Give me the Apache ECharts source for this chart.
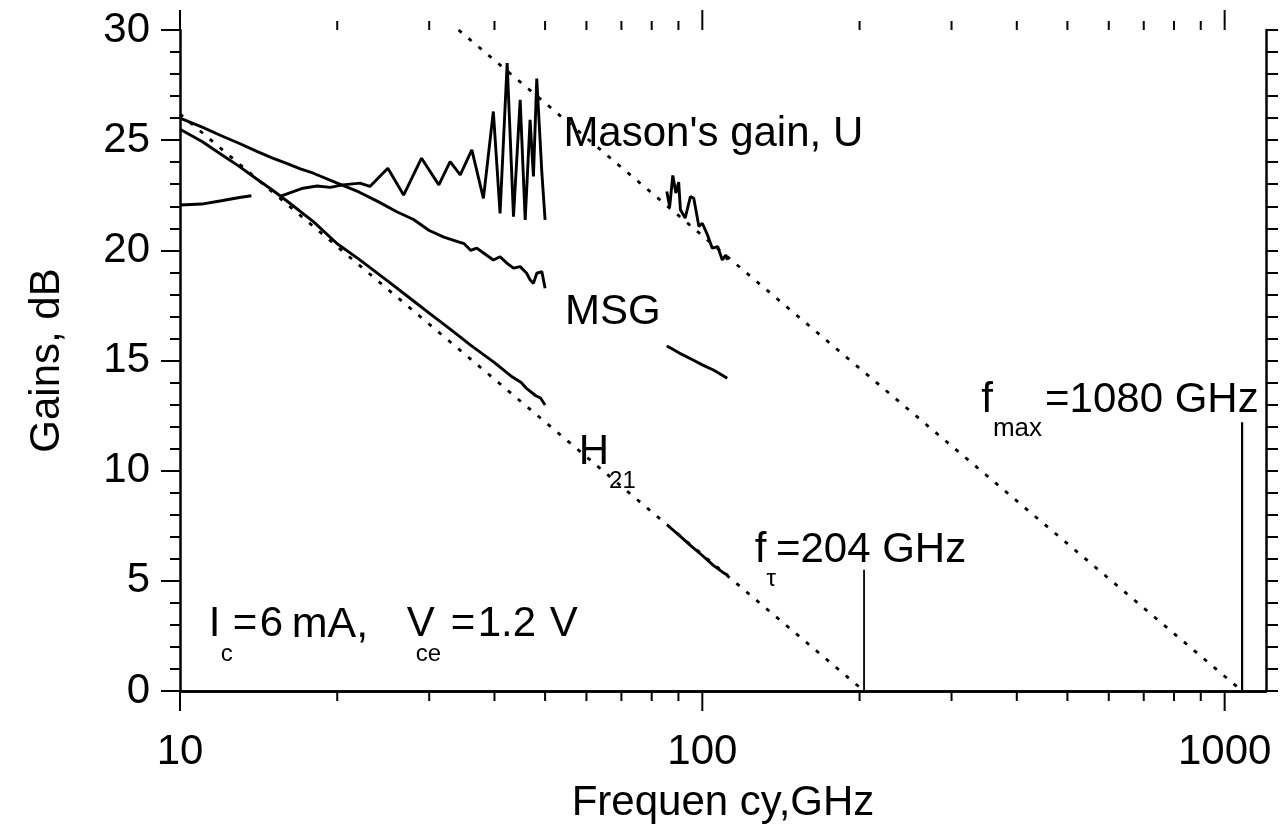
<!DOCTYPE html>
<html><head><meta charset="utf-8">
<script src="https://cdn.jsdelivr.net/npm/echarts@6/dist/echarts.min.js"></script>
<style>html,body{margin:0;padding:0;background:#fff}#c{width:1280px;height:825px}</style>
</head><body><div id="c"></div>
<script>
// ---------------- data (frequency in GHz, gain in dB) ----------------
const h21LowFreq  = [10, 11, 12, 13, 14, 15, 16, 18, 20, 22, 25, 28, 30, 33, 36, 40, 43, 45, 46, 48, 49, 50];
const h21LowGain  = [25.5, 24.95, 24.35, 23.8, 23.25, 22.75, 22.25, 21.3, 20.3, 19.6, 18.6, 17.7, 17.15, 16.4, 15.7, 14.9, 14.3, 14.0, 13.75, 13.4, 13.3, 12.98];
const h21HighFreq = [86, 90, 95, 100, 105, 110, 112];
const h21HighGain = [7.5, 7.1, 6.6, 6.15, 5.7, 5.35, 5.25];

const msgLowFreq  = [10, 11, 12, 13, 14, 15, 16, 17, 18, 20, 22, 24, 26, 28, 30, 32, 34, 35, 36, 37, 38, 39.8, 41, 42.3, 43.5, 44.8, 46.1, 46.8, 47.5, 48.2, 49.3, 50];
const msgLowGain  = [26.0, 25.6, 25.2, 24.85, 24.5, 24.2, 23.95, 23.7, 23.5, 23.05, 22.65, 22.2, 21.75, 21.4, 20.9, 20.6, 20.4, 20.3, 20.0, 20.1, 19.9, 19.56, 19.71, 19.41, 19.19, 19.26, 18.96, 18.66, 18.5, 18.96, 19.03, 18.28];
const msgHighFreq = [85.5, 88, 91, 96, 100, 105, 108, 111.6];
const msgHighGain = [15.66, 15.5, 15.3, 15.02, 14.8, 14.57, 14.4, 14.19];

const uLowFreq  = [10, 11, 12, 13, 13.7, null, 15.5, 17.2, 18.3, 19.4, 20.5, 22.1, 23.1, 25.0, 26.8, 29.0, 31.3, 32.9, 34.4, 36.2, 38.1, 39.8, 41.0, 42.3, 43.5, 44.8, 45.8, 46.8, 47.5, 48.2, 49.3, 50.0];
const uLowGain  = [22.06, 22.1, 22.25, 22.4, 22.48, null, 22.44, 22.82, 22.92, 22.86, 22.97, 23.05, 22.9, 23.73, 22.51, 24.18, 22.97, 24.03, 23.42, 24.56, 22.36, 26.3, 21.68, 28.5, 21.53, 26.83, 21.38, 25.92, 23.35, 27.8, 23.5, 21.38];
const uHighFreq = [85.5, 86.6, 87.8, 89.0, 90.1, 90.8, 92.7, 94.9, 96.3, 98.5, 100, 102.3, 104.5, 107, 109.2, 110.9, 111.7];
const uHighGain = [22.67, 21.98, 23.4, 22.6, 23.1, 21.84, 21.46, 22.44, 22.36, 21.08, 21.23, 20.7, 20.1, 20.17, 19.56, 19.79, 19.56];

// -20 dB/decade asymptotes and the fT / fmax markers
const fTAsymFreq   = [10, 204];
const fTAsymGain   = [26.19, 0];
const fMaxAsymFreq = [34.15, 1080];
const fMaxAsymGain = [30, 0];
const fTMarkFreq   = [204, 204];
const fTMarkGain   = [0, 5.5];
const fMaxMarkFreq = [1080, 1080];
const fMaxMarkGain = [0, 12.2];

// axes
const xMin = 10, xMax = 1200, yMin = 0, yMax = 30, yStep = 5;
const xTickLabels = ['10', '100', '1000'];
const xMajorTicks = [10, 100, 1000];
const xMinorTicks = [20, 30, 40, 50, 60, 70, 80, 90, 200, 300, 400, 500, 600, 700, 800, 900];

// text annotations: anchor (freq, gain) = origin / cap-centre of first glyph
// pieces: [text, isSub, offset, fontSize]; offset is relative to the running cursor, or to the anchor when abs is set
const annotations = [
  { at: [54.2, 25.24], parts: [["Mason's gain, U", false, 0]] },
  { at: [54.6, 17.2],  parts: [["MSG", false, 0]] },
  { at: [58.0, 10.85], parts: [["H", false, 0], ["21", true, 0]] },
  { at: [126, 6.4],    parts: [["f", false, 0], ["\u03C4", true, 0], ["=204 GHz", false, 0]] },
  { at: [342, 13.2],   parts: [["f", false, 0], ["max", true, 0, 26], ["=1080 GHz", false, 3]] },
  { at: [11.35, 3.0], abs: true, parts: [["I", false, 0], ["c", true, 12], ["=", false, 24], ["6", false, 51],
      ["mA,", false, 83, 43], ["V", false, 198], ["ce", true, 207], ["=", false, 242], ["1.2", false, 269], ["V", false, 341]] }
];

// ---------------- chart ----------------
const FONT = '"Liberation Sans", Arial, Helvetica, sans-serif';
const MAIN = 42, SUB = 24, SUB_DY = 29;
const zip = (fs, gs) => fs.map((f, i) => (f === null ? [null, null] : [f, gs[i]]));
const mctx = document.createElement('canvas').getContext('2d');
const measure = (t, s) => { mctx.font = s + 'px ' + FONT; return mctx.measureText(t).width; };

const lineSeries = (name, data, extra) => Object.assign({
  name, type: 'line', data, symbol: 'none', connectNulls: false, silent: true,
  lineStyle: { color: '#000', width: 2.9 }, z: 3, animation: false
}, extra || {});
const dashed = { lineStyle: { color: '#000', width: 2.8, type: [4, 9] } };

const chart = echarts.init(document.getElementById('c'), null, { renderer: 'canvas' });
chart.setOption({
  animation: false,
  backgroundColor: '#fff',
  grid: { left: 180, top: 30, right: 14, bottom: 134, outerBoundsMode: 'none', containLabel: false },
  xAxis: [
    {
      type: 'log', logBase: 10, min: xMin, max: xMax, position: 'bottom',
      name: 'Frequen cy,GHz', nameLocation: 'middle', nameGap: 91, nameMoveOverlap: false,
      nameTextStyle: { fontFamily: FONT, fontSize: MAIN, color: '#000' },
      axisLine: { show: true, lineStyle: { color: '#000', width: 2.5 } },
      axisTick: { show: false },
      axisLabel: {
        show: true, margin: 40, fontFamily: FONT, fontSize: MAIN, color: '#000', showMaxLabel: false,
        formatter: v => { const r = Math.round(v); const i = xMajorTicks.indexOf(r); return i >= 0 ? xTickLabels[i] : ''; }
      },
      splitLine: { show: false }
    },
    {
      type: 'log', logBase: 10, min: xMin, max: xMax, position: 'top',
      axisLine: { show: true, lineStyle: { color: '#000', width: 2.5 } },
      axisTick: { show: false }, axisLabel: { show: false }, splitLine: { show: false }
    }
  ],
  yAxis: [
    {
      type: 'value', min: yMin, max: yMax, interval: yStep, position: 'left',
      name: 'Gains, dB', nameLocation: 'middle', nameGap: 112, nameMoveOverlap: false,
      nameTextStyle: { fontFamily: FONT, fontSize: MAIN, color: '#000' },
      axisLine: { show: true, lineStyle: { color: '#000', width: 2.5 } },
      axisTick: { show: true, length: 19, lineStyle: { color: '#000', width: 2 } },
      minorTick: { show: true, splitNumber: 5, length: 10, lineStyle: { color: '#000', width: 2 } },
      axisLabel: { margin: 30, fontFamily: FONT, fontSize: MAIN, color: '#000' },
      splitLine: { show: false }, minorSplitLine: { show: false }
    },
    {
      type: 'value', min: yMin, max: yMax, interval: yStep, position: 'right',
      axisLine: { show: true, lineStyle: { color: '#000', width: 2.5 } },
      axisTick: { show: true, length: 12, lineStyle: { color: '#000', width: 2 } },
      minorTick: { show: true, splitNumber: 5, length: 12, lineStyle: { color: '#000', width: 2 } },
      axisLabel: { show: false }, splitLine: { show: false }, minorSplitLine: { show: false }
    }
  ],
  series: [
    lineSeries('H21 low', zip(h21LowFreq, h21LowGain)),
    lineSeries('H21 high', zip(h21HighFreq, h21HighGain)),
    lineSeries('MSG low', zip(msgLowFreq, msgLowGain)),
    lineSeries('MSG high', zip(msgHighFreq, msgHighGain)),
    lineSeries('U low', zip(uLowFreq, uLowGain)),
    lineSeries('U high', zip(uHighFreq, uHighGain)),
    lineSeries('fT asymptote', zip(fTAsymFreq, fTAsymGain), dashed),
    lineSeries('fmax asymptote', zip(fMaxAsymFreq, fMaxAsymGain), dashed),
    lineSeries('fT marker', zip(fTMarkFreq, fTMarkGain), { lineStyle: { color: '#000', width: 1.8 } }),
    lineSeries('fmax marker', zip(fMaxMarkFreq, fMaxMarkGain), { lineStyle: { color: '#000', width: 2.2 } }),
    {
      name: 'x ticks', type: 'custom', silent: true, clip: false, animation: false, z: 4,
      data: xMajorTicks.map(f => [f, 1]).concat(xMinorTicks.map(f => [f, 0])),
      renderItem: (params, api) => {
        const f = api.value(0), major = api.value(1) === 1;
        const b = api.coord([f, yMin]), t = api.coord([f, yMax]);
        const lb = major ? 20 : 10, lt = major ? 20 : 9;
        const st = { stroke: '#000', lineWidth: 2 };
        return { type: 'group', children: [
          { type: 'line', shape: { x1: b[0], y1: b[1], x2: b[0], y2: b[1] + lb }, style: st },
          { type: 'line', shape: { x1: t[0], y1: t[1], x2: t[0], y2: t[1] - lt }, style: st }
        ] };
      }
    },
    {
      name: 'annotations', type: 'custom', silent: true, clip: false, animation: false, z: 5,
      data: annotations.map(a => a.at),
      renderItem: (params, api) => {
        const a = annotations[params.dataIndex];
        const p = api.coord([api.value(0), api.value(1)]);
        let x = p[0];
        const kids = [];
        a.parts.forEach(([txt, sub, off, fs]) => {
          const size = fs || (sub ? SUB : MAIN);
          const tx = a.abs ? p[0] + off : x + (off || 0);
          kids.push({ type: 'text', x: tx, y: p[1] + (sub ? SUB_DY : 0),
            style: { text: txt, font: size + 'px ' + FONT, fill: '#000', align: 'left', verticalAlign: 'middle' } });
          x = tx + measure(txt, size);
        });
        return { type: 'group', children: kids };
      }
    }
  ]
});
</script>
</body></html>
